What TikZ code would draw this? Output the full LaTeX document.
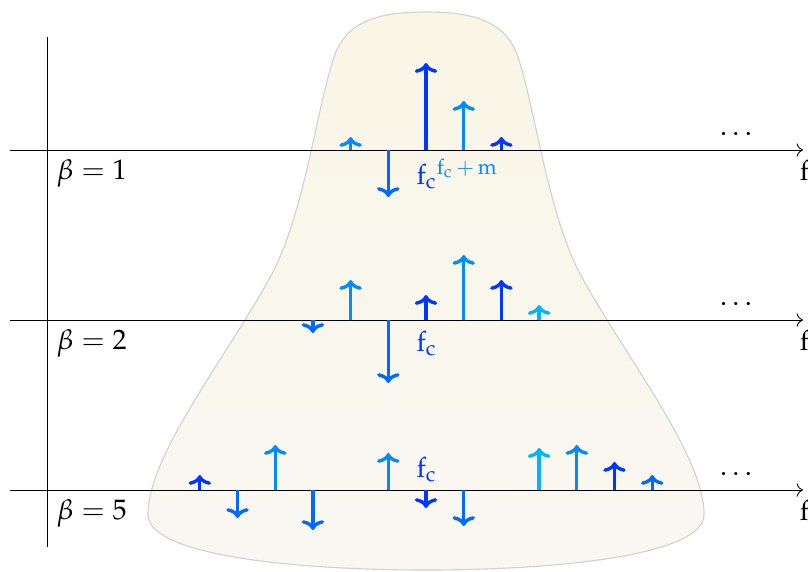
\documentclass[tikz,border=0pt]{standalone}
\usepackage{mathpazo}
\usetikzlibrary{arrows.meta}
\definecolor{specdark}{RGB}{0,55,255}
\definecolor{specmid}{RGB}{0,105,255}
\definecolor{speclight}{RGB}{0,140,255}
\definecolor{speccyan}{RGB}{0,180,255}
\definecolor{envtop}{RGB}{249,246,230}
\definecolor{envbot}{RGB}{249,247,242}
\newcommand{\fq}{\mathrm{f}}
\newcommand{\fcar}{\mathrm{f}_{\mathrm{c}}}

\begin{document}
\begin{tikzpicture}[x=0.0125cm, y=-0.0125cm,
  axis/.style={line width=0.3pt, ->},
  spike/.style={line width=1.2pt, -{Computer Modern Rightarrow[length=3.5pt,width=8pt]}},
  envelope/.style={draw=black!18, line width=0.4pt, top color=envtop, bottom color=envbot},
]
  \useasboundingbox (0,0) rectangle (808,571);
  % envelope of the spectra
  \path[envelope] (426,12) .. controls (472,12) and (507,20) .. (519,60)
    .. controls (535,110) and (548,210) .. (578,270)
    .. controls (620,350) and (705,455) .. (704,515)
    .. controls (703,555) and (560,570) .. (426,570)
    .. controls (292,570) and (149,555) .. (148,515)
    .. controls (147,455) and (232,350) .. (274,270)
    .. controls (304,210) and (317,110) .. (333,60)
    .. controls (345,20) and (380,12) .. (426,12) -- cycle;
  % axes
  \coordinate (vtop) at (47,37);
  \coordinate (vbot) at (47,547);
  \draw[line width=0.3pt] (vtop) -- (vbot);
  \foreach \y/\b/\n in {150/1/a, 320/2/b, 490/5/c} {
    \coordinate (\n0) at (10,\y);
    \coordinate (\n1) at (803,\y);
    \draw[axis] (\n0) -- (\n1);
    \node[anchor=north west] (beta\n) at (47,\y) {$\beta = \b$};
    \node[anchor=north west] (f\n) at (790,\y) {$\fq$};
    \node[anchor=base] (dots\n) at (736,\y-15) {$\dots$};
  }
  % spectral lines
  \foreach \k/\d/\c in {-2/13/speclight, -1/-47/specmid, 0/87/specdark, 1/49/speclight, 2/13/specdark}
    \draw[spike, \c] (426+37.7*\k,150) -- (426+37.7*\k,{150-(\d)});
  \foreach \k/\d/\c in {-3/-13/specmid, -2/40/speclight, -1/-63/specmid, 0/25/specdark, 1/65/speclight, 2/40/specdark, 3/15/speccyan}
    \draw[spike, \c] (426+37.7*\k,320) -- (426+37.7*\k,{320-(\d)});
  \foreach \k/\d/\c in {-6/15/specdark, -5/-28/specmid, -4/45/speclight, -3/-40/specmid, -1/37/speclight, 0/-18/specdark,
                        1/-36/specmid, 3/42/speccyan, 4/45/speclight, 5/28/specdark, 6/15/specmid}
    \draw[spike, \c] (426+37.7*\k,490) -- (426+37.7*\k,{490-(\d)});
  % carrier labels
  \node[anchor=north west] (fca) at (406.6,149) {${\color{specdark}\fcar}^{\color{speclight}\fcar\,+\,\mathrm{m}}$};
  \node[anchor=north west, text=specdark] (fcb) at (406.6,321) {$\fcar$};
  \node[anchor=south west, text=specdark] (fcc) at (406.6,492) {$\fcar$};
\end{tikzpicture}
\end{document}
